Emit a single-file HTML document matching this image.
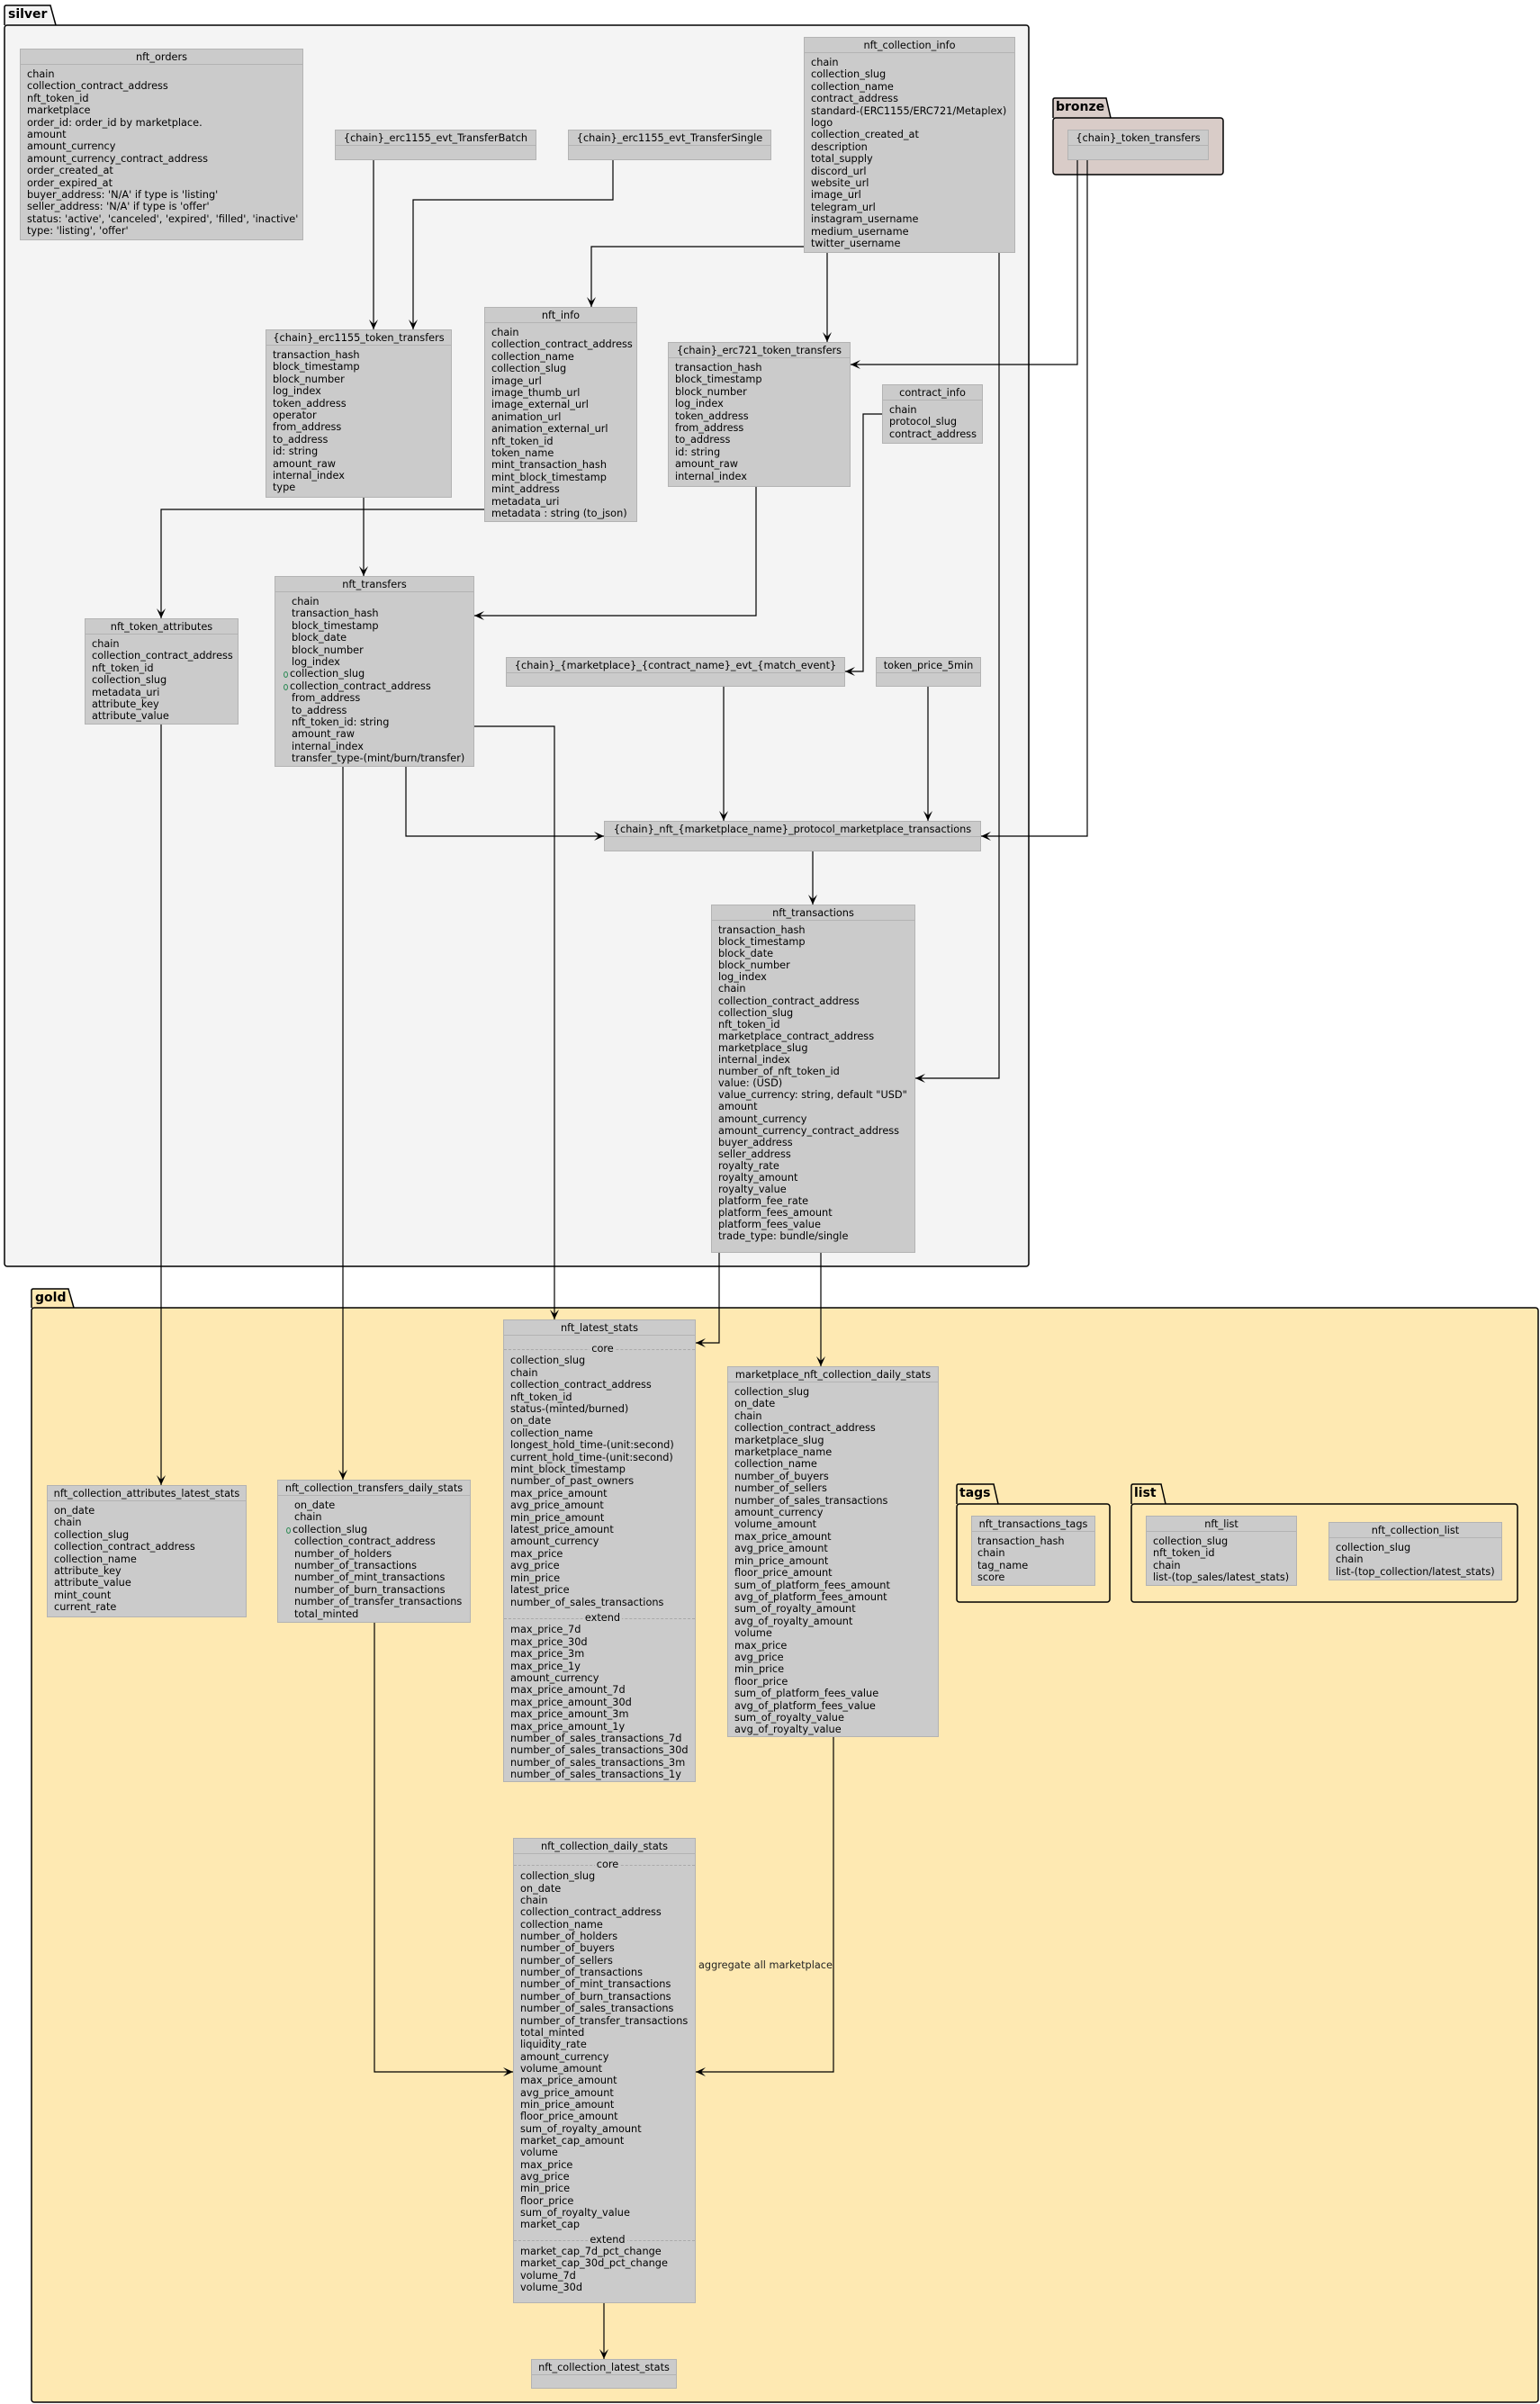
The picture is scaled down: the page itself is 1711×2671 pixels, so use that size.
<!DOCTYPE html>
<html><head><meta charset="utf-8">
<style>
html,body{margin:0;padding:0;background:#fff;}
body{width:1711px;height:2671px;position:relative;overflow:hidden;font-family:"DejaVu Sans","Liberation Sans",sans-serif;font-size:11.3px;color:#000;}
svg{position:absolute;left:0;top:0;}
.b{position:absolute;background:#cbcbcb;border:1px solid #b3b3b3;box-sizing:border-box;white-space:nowrap;}
.h{height:17px;line-height:17px;text-align:center;border-bottom:1px solid #b3b3b3;box-sizing:border-box;}
.f{padding:4px 0 0 7px;line-height:13.4px;}
.s{position:relative;height:13.4px;text-align:center;margin-top:2px;}
.s:before{content:"";position:absolute;left:-7px;right:0;top:7px;border-top:1px dashed #aaa;}
.s span{position:relative;background:#cbcbcb;padding:0 2px;}
.c{display:inline-block;width:5px;height:7px;border:1px solid #2e8b57;border-radius:50%;margin:0 2px 0 -9px;vertical-align:-1px;box-sizing:border-box;}
.ind{padding-left:18px;}
.pl{position:absolute;font-weight:bold;font-size:14px;}
.lbl{position:absolute;font-size:11.3px;color:#222;}
</style></head><body>
<svg width="1711" height="2671" viewBox="0 0 1711 2671">
<defs>
<marker id="a" markerWidth="12" markerHeight="10" refX="11" refY="5" orient="auto" markerUnits="userSpaceOnUse">
<path d="M0,0 L11,5 L0,10 L5,5 Z" fill="#000"/>
</marker>
</defs>
<!-- silver -->
<path d="M5,28 L5,8 Q5,6 7,6 L56,6 L62,28" fill="#f4f4f4" stroke="#000" stroke-width="1.5"/>
<rect x="5" y="28" width="1138" height="1379" rx="3" fill="#f4f4f4" stroke="#000" stroke-width="1.5"/>
<!-- bronze -->
<path d="M1170,131 L1170,111 Q1170,109 1172,109 L1229,109 L1234,131" fill="#d9ccc8" stroke="#000" stroke-width="1.5"/>
<rect x="1170" y="131" width="189" height="63" rx="3" fill="#d9ccc8" stroke="#000" stroke-width="1.5"/>
<!-- gold -->
<path d="M35,1453 L35,1434 Q35,1432 37,1432 L76,1432 L82,1453" fill="#fee9b2" stroke="#000" stroke-width="1.5"/>
<rect x="35" y="1453" width="1674" height="1216" rx="3" fill="#fee9b2" stroke="#000" stroke-width="1.5"/>
<!-- tags -->
<path d="M1063,1671 L1063,1651 Q1063,1649 1065,1649 L1104,1649 L1109,1671" fill="#fee9b2" stroke="#000" stroke-width="1.5"/>
<rect x="1063" y="1671" width="170" height="109" rx="3" fill="#fee9b2" stroke="#000" stroke-width="1.5"/>
<!-- list -->
<path d="M1257,1671 L1257,1651 Q1257,1649 1259,1649 L1290,1649 L1295,1671" fill="#fee9b2" stroke="#000" stroke-width="1.5"/>
<rect x="1257" y="1671" width="429" height="109" rx="3" fill="#fee9b2" stroke="#000" stroke-width="1.5"/>

<g fill="none" stroke="#000" stroke-width="1.2" marker-end="url(#a)">
<polyline points="415,178 415,366"/>
<polyline points="681,178 681,222 459,222 459,366"/>
<polyline points="893,274 657,274 657,341"/>
<polyline points="919,281 919,380"/>
<polyline points="1197,178 1197,405 945,405"/>
<polyline points="1208,178 1208,929 1090,929"/>
<polyline points="1110,281 1110,1198 1017,1198"/>
<polyline points="980,460 959,460 959,746 939,746"/>
<polyline points="404,553 404,640"/>
<polyline points="538,566 179,566 179,687"/>
<polyline points="840,541 840,684 527,684"/>
<polyline points="804,763 804,912"/>
<polyline points="1031,763 1031,912"/>
<polyline points="451,852 451,929 671,929"/>
<polyline points="903,946 903,1005"/>
<polyline points="527,807 616,807 616,1466"/>
<polyline points="381,852 381,1644"/>
<polyline points="179,805 179,1650"/>
<polyline points="799,1392 799,1492 773,1492"/>
<polyline points="912,1392 912,1518"/>
<polyline points="416,1803 416,2302 570,2302"/>
<polyline points="926,1930 926,2302 773,2302"/>
<polyline points="671,2559 671,2621"/>
</g>
</svg>

<div class="pl" style="left:9px;top:8px;">silver</div>
<div class="pl" style="left:1173px;top:111px;">bronze</div>
<div class="pl" style="left:39px;top:1434px;">gold</div>
<div class="pl" style="left:1066px;top:1651px;">tags</div>
<div class="pl" style="left:1260px;top:1651px;">list</div>
<div class="lbl" style="left:776px;top:2177px;">aggregate all marketplace</div>

<div class="b" style="left:22px;top:54px;width:315px;height:213px;"><div class="h">nft_orders</div><div class="f">chain<br>collection_contract_address<br>nft_token_id<br>marketplace<br>order_id: order_id by marketplace.<br>amount<br>amount_currency<br>amount_currency_contract_address<br>order_created_at<br>order_expired_at<br>buyer_address: 'N/A' if type is 'listing'<br>seller_address: 'N/A' if type is 'offer'<br>status: 'active', 'canceled', 'expired', 'filled', 'inactive'<br>type: 'listing', 'offer'</div></div>

<div class="b" style="left:372px;top:144px;width:224px;height:34px;"><div class="h">{chain}_erc1155_evt_TransferBatch</div></div>
<div class="b" style="left:631px;top:144px;width:226px;height:34px;"><div class="h">{chain}_erc1155_evt_TransferSingle</div></div>
<div class="b" style="left:1186px;top:144px;width:157px;height:34px;"><div class="h">{chain}_token_transfers</div></div>

<div class="b" style="left:893px;top:41px;width:235px;height:240px;"><div class="h">nft_collection_info</div><div class="f">chain<br>collection_slug<br>collection_name<br>contract_address<br>standard-(ERC1155/ERC721/Metaplex)<br>logo<br>collection_created_at<br>description<br>total_supply<br>discord_url<br>website_url<br>image_url<br>telegram_url<br>instagram_username<br>medium_username<br>twitter_username</div></div>

<div class="b" style="left:295px;top:366px;width:207px;height:187px;"><div class="h">{chain}_erc1155_token_transfers</div><div class="f">transaction_hash<br>block_timestamp<br>block_number<br>log_index<br>token_address<br>operator<br>from_address<br>to_address<br>id: string<br>amount_raw<br>internal_index<br>type</div></div>

<div class="b" style="left:538px;top:341px;width:170px;height:239px;"><div class="h">nft_info</div><div class="f">chain<br>collection_contract_address<br>collection_name<br>collection_slug<br>image_url<br>image_thumb_url<br>image_external_url<br>animation_url<br>animation_external_url<br>nft_token_id<br>token_name<br>mint_transaction_hash<br>mint_block_timestamp<br>mint_address<br>metadata_uri<br>metadata : string (to_json)</div></div>

<div class="b" style="left:742px;top:380px;width:203px;height:161px;"><div class="h">{chain}_erc721_token_transfers</div><div class="f">transaction_hash<br>block_timestamp<br>block_number<br>log_index<br>token_address<br>from_address<br>to_address<br>id: string<br>amount_raw<br>internal_index</div></div>

<div class="b" style="left:980px;top:427px;width:112px;height:66px;"><div class="h">contract_info</div><div class="f">chain<br>protocol_slug<br>contract_address</div></div>

<div class="b" style="left:94px;top:687px;width:171px;height:118px;"><div class="h">nft_token_attributes</div><div class="f">chain<br>collection_contract_address<br>nft_token_id<br>collection_slug<br>metadata_uri<br>attribute_key<br>attribute_value</div></div>

<div class="b" style="left:305px;top:640px;width:222px;height:212px;"><div class="h">nft_transfers</div><div class="f ind">chain<br>transaction_hash<br>block_timestamp<br>block_date<br>block_number<br>log_index<br><span class="c"></span>collection_slug<br><span class="c"></span>collection_contract_address<br>from_address<br>to_address<br>nft_token_id: string<br>amount_raw<br>internal_index<br>transfer_type-(mint/burn/transfer)</div></div>

<div class="b" style="left:562px;top:730px;width:377px;height:33px;"><div class="h">{chain}_{marketplace}_{contract_name}_evt_{match_event}</div></div>
<div class="b" style="left:973px;top:730px;width:117px;height:33px;"><div class="h">token_price_5min</div></div>
<div class="b" style="left:671px;top:912px;width:419px;height:34px;"><div class="h">{chain}_nft_{marketplace_name}_protocol_marketplace_transactions</div></div>

<div class="b" style="left:790px;top:1005px;width:227px;height:387px;"><div class="h">nft_transactions</div><div class="f" style="line-height:13.1px;">transaction_hash<br>block_timestamp<br>block_date<br>block_number<br>log_index<br>chain<br>collection_contract_address<br>collection_slug<br>nft_token_id<br>marketplace_contract_address<br>marketplace_slug<br>internal_index<br>number_of_nft_token_id<br>value: (USD)<br>value_currency: string, default "USD"<br>amount<br>amount_currency<br>amount_currency_contract_address<br>buyer_address<br>seller_address<br>royalty_rate<br>royalty_amount<br>royalty_value<br>platform_fee_rate<br>platform_fees_amount<br>platform_fees_value<br>trade_type: bundle/single</div></div>

<div class="b" style="left:559px;top:1466px;width:214px;height:514px;"><div class="h">nft_latest_stats</div><div class="f" style="padding-top:6px;"><div class="s"><span>core</span></div>collection_slug<br>chain<br>collection_contract_address<br>nft_token_id<br>status-(minted/burned)<br>on_date<br>collection_name<br>longest_hold_time-(unit:second)<br>current_hold_time-(unit:second)<br>mint_block_timestamp<br>number_of_past_owners<br>max_price_amount<br>avg_price_amount<br>min_price_amount<br>latest_price_amount<br>amount_currency<br>max_price<br>avg_price<br>min_price<br>latest_price<br>number_of_sales_transactions<div class="s" style="margin-top:4px;"><span>extend</span></div>max_price_7d<br>max_price_30d<br>max_price_3m<br>max_price_1y<br>amount_currency<br>max_price_amount_7d<br>max_price_amount_30d<br>max_price_amount_3m<br>max_price_amount_1y<br>number_of_sales_transactions_7d<br>number_of_sales_transactions_30d<br>number_of_sales_transactions_3m<br>number_of_sales_transactions_1y</div></div>

<div class="b" style="left:808px;top:1518px;width:235px;height:412px;"><div class="h">marketplace_nft_collection_daily_stats</div><div class="f">collection_slug<br>on_date<br>chain<br>collection_contract_address<br>marketplace_slug<br>marketplace_name<br>collection_name<br>number_of_buyers<br>number_of_sellers<br>number_of_sales_transactions<br>amount_currency<br>volume_amount<br>max_price_amount<br>avg_price_amount<br>min_price_amount<br>floor_price_amount<br>sum_of_platform_fees_amount<br>avg_of_platform_fees_amount<br>sum_of_royalty_amount<br>avg_of_royalty_amount<br>volume<br>max_price<br>avg_price<br>min_price<br>floor_price<br>sum_of_platform_fees_value<br>avg_of_platform_fees_value<br>sum_of_royalty_value<br>avg_of_royalty_value</div></div>

<div class="b" style="left:52px;top:1650px;width:222px;height:147px;"><div class="h">nft_collection_attributes_latest_stats</div><div class="f">on_date<br>chain<br>collection_slug<br>collection_contract_address<br>collection_name<br>attribute_key<br>attribute_value<br>mint_count<br>current_rate</div></div>

<div class="b" style="left:308px;top:1644px;width:215px;height:159px;"><div class="h">nft_collection_transfers_daily_stats</div><div class="f ind">on_date<br>chain<br><span class="c"></span>collection_slug<br>collection_contract_address<br>number_of_holders<br>number_of_transactions<br>number_of_mint_transactions<br>number_of_burn_transactions<br>number_of_transfer_transactions<br>total_minted</div></div>

<div class="b" style="left:1079px;top:1684px;width:138px;height:78px;"><div class="h">nft_transactions_tags</div><div class="f" style="padding-left:6px;">transaction_hash<br>chain<br>tag_name<br>score</div></div>
<div class="b" style="left:1273px;top:1684px;width:168px;height:78px;"><div class="h">nft_list</div><div class="f">collection_slug<br>nft_token_id<br>chain<br>list-(top_sales/latest_stats)</div></div>
<div class="b" style="left:1476px;top:1691px;width:193px;height:65px;"><div class="h">nft_collection_list</div><div class="f">collection_slug<br>chain<br>list-(top_collection/latest_stats)</div></div>

<div class="b" style="left:570px;top:2042px;width:203px;height:517px;"><div class="h">nft_collection_daily_stats</div><div class="f" style="padding-top:5px;line-height:13.35px;"><div class="s" style="margin-top:0;"><span>core</span></div>collection_slug<br>on_date<br>chain<br>collection_contract_address<br>collection_name<br>number_of_holders<br>number_of_buyers<br>number_of_sellers<br>number_of_transactions<br>number_of_mint_transactions<br>number_of_burn_transactions<br>number_of_sales_transactions<br>number_of_transfer_transactions<br>total_minted<br>liquidity_rate<br>amount_currency<br>volume_amount<br>max_price_amount<br>avg_price_amount<br>min_price_amount<br>floor_price_amount<br>sum_of_royalty_amount<br>market_cap_amount<br>volume<br>max_price<br>avg_price<br>min_price<br>floor_price<br>sum_of_royalty_value<br>market_cap<div class="s" style="margin-top:3px;"><span>extend</span></div>market_cap_7d_pct_change<br>market_cap_30d_pct_change<br>volume_7d<br>volume_30d</div></div>

<div class="b" style="left:590px;top:2621px;width:162px;height:33px;"><div class="h">nft_collection_latest_stats</div></div>
</body></html>
